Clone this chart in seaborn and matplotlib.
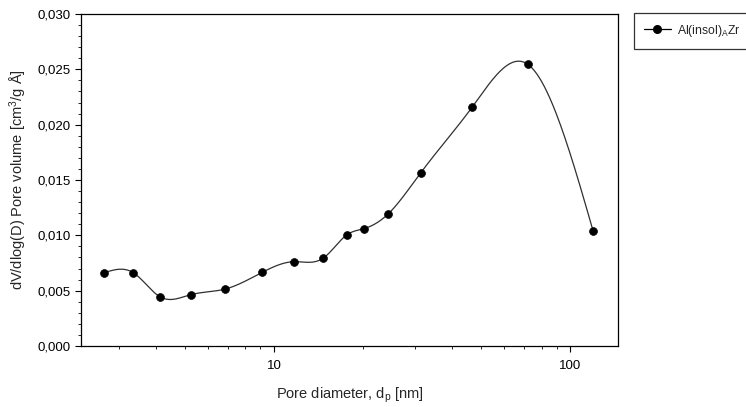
import numpy as np
import pandas as pd
import matplotlib
matplotlib.use("Agg")
import matplotlib.pyplot as plt
from matplotlib.lines import Line2D
from matplotlib.ticker import FixedLocator, FuncFormatter, MultipleLocator, LogLocator, NullFormatter
import seaborn as sns

# ---- data ----
pore_diameter_nm = [2.67, 3.35, 4.13, 5.24, 6.85, 9.13, 11.66, 14.68, 17.65,
                    20.09, 24.28, 31.30, 46.77, 71.96, 119.6]
pore_volume = [0.00662, 0.00662, 0.00443, 0.00464, 0.00515, 0.00666, 0.00762,
               0.00795, 0.01006, 0.01060, 0.01193, 0.01566, 0.02162, 0.02545,
               0.01036]
series_name = "Al(insol)$_\\mathregular{A}$Zr"
y_ticks = [0.000, 0.005, 0.010, 0.015, 0.020, 0.025, 0.030]
x_tick_labels = [10, 100]

df = pd.DataFrame({"d": pore_diameter_nm, "v": pore_volume})


def natural_spline(x, y, xs):
    x = np.asarray(x, float)
    y = np.asarray(y, float)
    n = len(x)
    h = np.diff(x)
    A = np.zeros((n, n))
    b = np.zeros(n)
    A[0, 0] = 1
    A[-1, -1] = 1
    for i in range(1, n - 1):
        A[i, i - 1] = h[i - 1]
        A[i, i] = 2 * (h[i - 1] + h[i])
        A[i, i + 1] = h[i]
        b[i] = 6 * ((y[i + 1] - y[i]) / h[i] - (y[i] - y[i - 1]) / h[i - 1])
    M = np.linalg.solve(A, b)
    idx = np.clip(np.searchsorted(x, xs) - 1, 0, n - 2)
    x0, x1 = x[idx], x[idx + 1]
    hh = x1 - x0
    t0 = x1 - xs
    t1 = xs - x0
    return (M[idx] * t0 ** 3 / (6 * hh) + M[idx + 1] * t1 ** 3 / (6 * hh)
            + (y[idx] / hh - M[idx] * hh / 6) * t0
            + (y[idx + 1] / hh - M[idx + 1] * hh / 6) * t1)


lx = np.log10(df["d"].values)
xs_log = np.linspace(lx.min(), lx.max(), 600)
curve = pd.DataFrame({"d": 10 ** xs_log, "v": natural_spline(lx, df["v"].values, xs_log)})

sns.set_style("ticks")
plt.rcParams["font.family"] = ["Liberation Sans", "DejaVu Sans"]
plt.rcParams["mathtext.fontset"] = "custom"
plt.rcParams["mathtext.rm"] = "Liberation Sans"
plt.rcParams["mathtext.it"] = "Liberation Sans"

fig = plt.figure(figsize=(7.46, 4.07), dpi=100)
ax = fig.add_axes([81 / 746, 1 - 346 / 407, (618 - 81) / 746, (346 - 14) / 407])

sns.lineplot(data=curve, x="d", y="v", ax=ax, color="#303030", linewidth=0.9,
             sort=False, estimator=None)
sns.scatterplot(data=df, x="d", y="v", ax=ax, color="black", s=32,
                edgecolor="black", linewidth=0.5, zorder=3)

ax.set_xscale("log")
ax.set_xlim(2.23, 145)
ax.set_ylim(0, 0.030)

ax.xaxis.set_major_locator(FixedLocator(x_tick_labels))
ax.xaxis.set_major_formatter(FuncFormatter(lambda v, p: f"{v:g}"))
ax.xaxis.set_minor_locator(LogLocator(base=10, subs=np.arange(2, 10)))
ax.xaxis.set_minor_formatter(NullFormatter())

ax.yaxis.set_major_locator(FixedLocator(y_ticks))
ax.yaxis.set_major_formatter(FuncFormatter(lambda v, p: f"{v:.3f}".replace(".", ",")))
ax.yaxis.set_minor_locator(MultipleLocator(0.001))

ax.tick_params(which="major", direction="out", length=4, width=0.8,
               labelsize=9.5, colors="black")
ax.tick_params(which="minor", direction="out", length=2.3, width=0.7)
ax.tick_params(axis="x", which="major", pad=6)

for s in ax.spines.values():
    s.set_visible(True)
    s.set_color("black")
    s.set_linewidth(0.9)

ax.set_xlabel("Pore diameter, d$_\\mathregular{p}$ [nm]", fontsize=10.5, labelpad=10)
ax.set_ylabel("dV/dlog(D) Pore volume [cm$^\\mathregular{3}$/g Å]", fontsize=10.5, labelpad=6)

handle = Line2D([], [], color="black", linewidth=0.9, marker="o", markersize=5.5)
leg = fig.legend([handle], [series_name], loc="upper left",
                 bbox_to_anchor=(634 / 746, 1 - 13 / 407), frameon=True,
                 fancybox=False, edgecolor="black", fontsize=8.8,
                 borderpad=0.8, handlelength=2.2, handletextpad=0.5,
                 borderaxespad=0)
leg.get_frame().set_linewidth(0.9)

fig.savefig("out.png", dpi=100)
